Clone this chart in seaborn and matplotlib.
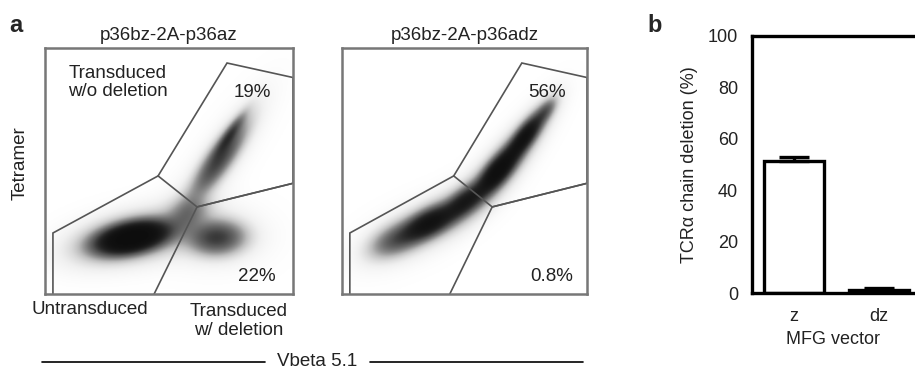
import numpy as np
import pandas as pd
import matplotlib
matplotlib.use("Agg")
import matplotlib.pyplot as plt
import seaborn as sns

# ---- panel a: gate template (0-1000 scale on both axes) ----
gate_untransduced = [(32, 0), (32, 248), (456, 480), (613, 354), (440, 0)]
gate_wo_deletion = [(456, 480), (734, 939), (1000, 880), (1000, 450), (613, 354)]
gate_w_deletion = [(613, 354), (1000, 450)]

titles_a = ["p36bz-2A-p36az", "p36bz-2A-p36adz"]
pct_upper = ["19%", "56%"]
pct_lower = ["22%", "0.8%"]

# cell populations: centre x, centre y, sd major, sd minor, angle (deg), weight
pops_az = [
    (350, 228, 82, 33, 12, 7.0),
    (695, 228, 68, 42, 3, 1.7),
    (705, 548, 110, 30, 55, 1.6),
    (745, 645, 60, 13, 56, 1.2),
    (580, 330, 55, 40, 30, 0.7),
]
pops_adz = [
    (220, 220, 70, 36, 25, 1.1),
    (355, 288, 70, 30, 28, 3.5),
    (500, 375, 60, 27, 38, 2.5),
    (635, 500, 70, 25, 50, 4.5),
    (745, 640, 65, 21, 53, 3.5),
    (830, 745, 38, 17, 53, 0.9),
]

# ---- panel b ----
vectors = ["z", "dz"]
deletion_mean = [51.4, 1.2]
deletion_err = [1.5, 0.6]


def density(pops, n=400):
    g = np.linspace(0, 1000, n)
    X, Y = np.meshgrid(g, g)
    d = np.zeros_like(X)
    for cx, cy, sa, sb, ang, w in pops:
        t = np.deg2rad(ang)
        u = (X - cx) * np.cos(t) + (Y - cy) * np.sin(t)
        v = -(X - cx) * np.sin(t) + (Y - cy) * np.cos(t)
        r2 = u ** 2 / sa ** 2 + v ** 2 / sb ** 2
        # dense core plus a sparse halo of scattered events
        d += w * np.exp(-0.5 * r2) + 0.12 * w * np.exp(-0.5 * r2 / 1.9 ** 2)
    return 1 - np.exp(-d)


sns.set_style("white")
plt.rcParams["font.family"] = ["Liberation Sans", "DejaVu Sans"]

W, H = 915, 368
fig = plt.figure(figsize=(W / 100, H / 100), dpi=100)


def rect(x0, y0, x1, y1):
    return [x0 / W, 1 - y1 / H, (x1 - x0) / W, (y1 - y0) / H]


def ftext(x, y, s, **kw):
    fig.text(x / W, 1 - y / H, s, ha="center", va="center", **kw)


fs = 13.5
ink = "#222222"
frame_col = "#777777"
gate_col = "#555555"
boxes = [(45, 48, 293, 294), (342, 48, 587, 294)]
for i, (pops, box) in enumerate(zip([pops_az, pops_adz], boxes)):
    ax = fig.add_axes(rect(*box))
    ax.imshow(density(pops), origin="lower", extent=(0, 1000, 0, 1000),
              cmap="Greys", vmin=0, vmax=1.05, interpolation="bilinear", aspect="auto")
    for gate in [gate_untransduced, gate_wo_deletion, gate_w_deletion]:
        xs, ys = zip(*gate)
        ax.plot(xs, ys, color=gate_col, lw=1.2, solid_joinstyle="miter")
    ax.set_xlim(0, 1000)
    ax.set_ylim(0, 1000)
    ax.set_xticks([])
    ax.set_yticks([])
    for sp in ax.spines.values():
        sp.set_visible(True)
        sp.set_color(frame_col)
        sp.set_linewidth(1.8)
    ax.set_title(titles_a[i], fontsize=fs, pad=6, color=ink)
    ax.text(835, 818, pct_upper[i], ha="center", va="center", fontsize=fs, color=ink)
    ax.text(855, 73, pct_lower[i], ha="center", va="center", fontsize=fs, color=ink)
    if i == 0:
        ax.text(294, 860, "Transduced\nw/o deletion", ha="center", va="center",
                fontsize=fs, linespacing=1.1, color=ink)

ftext(16, 25, "a", fontsize=17, fontweight="bold")
ftext(20, 163, "Tetramer", fontsize=fs, rotation=90, color=ink)
ftext(90, 310, "Untransduced", fontsize=fs, color=ink)
ftext(239, 321, "Transduced\nw/ deletion", fontsize=fs, linespacing=1.1, color=ink)
ftext(317, 361, "Vbeta 5.1", fontsize=fs, color=ink)
fig.add_artist(plt.Line2D([42 / W, 265 / W], [1 - 362 / H] * 2, color="black", lw=1.2))
fig.add_artist(plt.Line2D([370 / W, 583 / W], [1 - 362 / H] * 2, color="black", lw=1.2))

# ---- panel b ----
axb = fig.add_axes(rect(752, 36, 915, 293))
df = pd.DataFrame({"vector": vectors, "deletion": deletion_mean})
sns.barplot(data=df, x="vector", y="deletion", ax=axb, color="white",
            edgecolor="black", linewidth=2.4, width=0.7, errorbar=None, zorder=2)
axb.errorbar(range(len(vectors)), deletion_mean,
             yerr=[np.zeros(len(vectors)), deletion_err], fmt="none",
             ecolor="black", elinewidth=2.4, capsize=11, capthick=2.4, zorder=3)
axb.set_xlim(-0.494, 1.424)
axb.set_ylim(0, 100)
axb.set_yticks([0, 20, 40, 60, 80, 100])
for side in ["left", "top", "bottom"]:
    axb.spines[side].set_visible(True)
    axb.spines[side].set_color("black")
    axb.spines[side].set_linewidth(2.4)
axb.spines["right"].set_visible(False)
axb.tick_params(axis="both", direction="out", length=7, width=2.4,
                color="black", labelsize=13, labelcolor=ink, pad=3)
axb.tick_params(axis="x", length=6, pad=5)
axb.set_xlabel("MFG vector", fontsize=13, labelpad=4, color=ink)
axb.set_ylabel("TCR\u03b1 chain deletion (%)", fontsize=13, labelpad=7, color=ink)
ftext(655, 25, "b", fontsize=17, fontweight="bold")

fig.savefig("out.png", dpi=100)
